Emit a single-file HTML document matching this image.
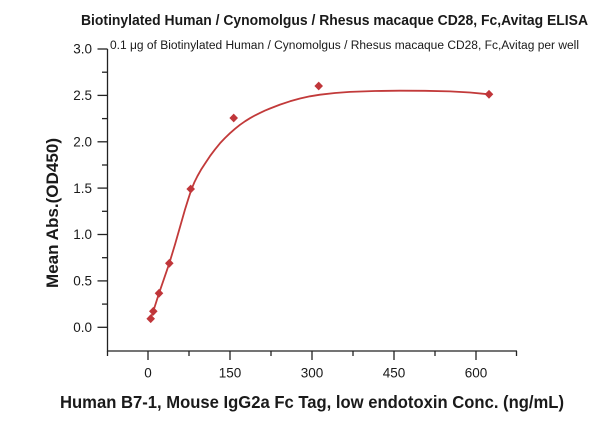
<!DOCTYPE html>
<html><head><meta charset="utf-8"><style>
html,body{margin:0;padding:0;background:#fff;}
svg{display:block;}
text{font-family:"Liberation Sans",sans-serif;fill:#1a1a1a;}
</style></head><body>
<svg width="600" height="421" viewBox="0 0 600 421" xmlns="http://www.w3.org/2000/svg">
<text x="81" y="25" font-size="14.5" font-weight="bold" textLength="507" lengthAdjust="spacingAndGlyphs">Biotinylated Human / Cynomolgus / Rhesus macaque CD28, Fc,Avitag ELISA</text>
<text x="110" y="49" font-size="11.5" textLength="469" lengthAdjust="spacingAndGlyphs">0.1 μg of Biotinylated Human / Cynomolgus / Rhesus macaque CD28, Fc,Avitag per well</text>
<g stroke="#222" stroke-width="1.3" fill="none">
<line x1="107.5" y1="49" x2="107.5" y2="351.5"/>
<line x1="107" y1="351" x2="517" y2="351"/>
<line x1="97.5" y1="327.3" x2="107.5" y2="327.3"/>
<line x1="97.5" y1="280.9" x2="107.5" y2="280.9"/>
<line x1="97.5" y1="234.5" x2="107.5" y2="234.5"/>
<line x1="97.5" y1="188.1" x2="107.5" y2="188.1"/>
<line x1="97.5" y1="141.8" x2="107.5" y2="141.8"/>
<line x1="97.5" y1="95.4" x2="107.5" y2="95.4"/>
<line x1="97.5" y1="49" x2="107.5" y2="49"/>
<line x1="102" y1="304.1" x2="107.5" y2="304.1"/>
<line x1="102" y1="257.7" x2="107.5" y2="257.7"/>
<line x1="102" y1="211.3" x2="107.5" y2="211.3"/>
<line x1="102" y1="165" x2="107.5" y2="165"/>
<line x1="102" y1="118.6" x2="107.5" y2="118.6"/>
<line x1="102" y1="72.2" x2="107.5" y2="72.2"/>
<line x1="148" y1="351" x2="148" y2="360"/>
<line x1="230" y1="351" x2="230" y2="360"/>
<line x1="312" y1="351" x2="312" y2="360"/>
<line x1="394" y1="351" x2="394" y2="360"/>
<line x1="476" y1="351" x2="476" y2="360"/>
<line x1="107.5" y1="351" x2="107.5" y2="356"/>
<line x1="189" y1="351" x2="189" y2="356"/>
<line x1="271" y1="351" x2="271" y2="356"/>
<line x1="353" y1="351" x2="353" y2="356"/>
<line x1="435" y1="351" x2="435" y2="356"/>
<line x1="516.5" y1="351" x2="516.5" y2="356"/>
</g>
<g font-size="13.5" text-anchor="end">
<text x="92" y="332">0.0</text>
<text x="92" y="285.6">0.5</text>
<text x="92" y="239.2">1.0</text>
<text x="92" y="192.8">1.5</text>
<text x="92" y="146.5">2.0</text>
<text x="92" y="100.1">2.5</text>
<text x="92" y="53.7">3.0</text>
</g>
<g font-size="13.5" text-anchor="middle">
<text x="148" y="377.5">0</text>
<text x="230" y="377.5">150</text>
<text x="312" y="377.5">300</text>
<text x="394" y="377.5">450</text>
<text x="476" y="377.5">600</text>
</g>
<text x="60" y="408" font-size="17.5" font-weight="bold" textLength="504" lengthAdjust="spacingAndGlyphs">Human B7-1, Mouse IgG2a Fc Tag, low endotoxin Conc. (ng/mL)</text>
<text transform="translate(58,288) rotate(-90)" font-size="17" font-weight="bold" textLength="150" lengthAdjust="spacingAndGlyphs">Mean Abs.(OD450)</text>
<polyline fill="none" stroke="#c23a3a" stroke-width="1.8" stroke-linejoin="round" stroke-linecap="round" points="150.7,318.7 155,305.9 159,293.3 164,278.8 169.3,263.3 175,244.5 180,227 185,209.5 188.5,198.3 191.5,189.2 194.5,182 197.5,176 201,169.8 205,163.6 210,156.1 215,149.4 220,143.3 225,138 230,133.2 235,128.8 240,124.8 245,121.3 250,118.2 255,115.4 260,112.9 265,110.6 270,108.5 280,104.6 290,101.3 300,98.5 310,96.3 320,94.7 335,93 350,91.9 375,91 400,90.7 425,90.8 450,91.4 470,92.5 489,94.3"/>
<g fill="#c0363a">
<path d="M150.7 314.3 L155 318.7 L150.7 323.1 L146.4 318.7Z"/>
<path d="M153.3 306.9 L157.6 311.3 L153.3 315.7 L149 311.3Z"/>
<path d="M159 288.9 L163.3 293.3 L159 297.7 L154.7 293.3Z"/>
<path d="M169.3 258.9 L173.6 263.3 L169.3 267.7 L165 263.3Z"/>
<path d="M190.7 184.6 L195 189 L190.7 193.4 L186.4 189Z"/>
<path d="M233.7 113.6 L238 118 L233.7 122.4 L229.4 118Z"/>
<path d="M318.7 81.6 L323 86 L318.7 90.4 L314.4 86Z"/>
<path d="M489 89.9 L493.3 94.3 L489 98.7 L484.7 94.3Z"/>
</g>
</svg>
</body></html>
